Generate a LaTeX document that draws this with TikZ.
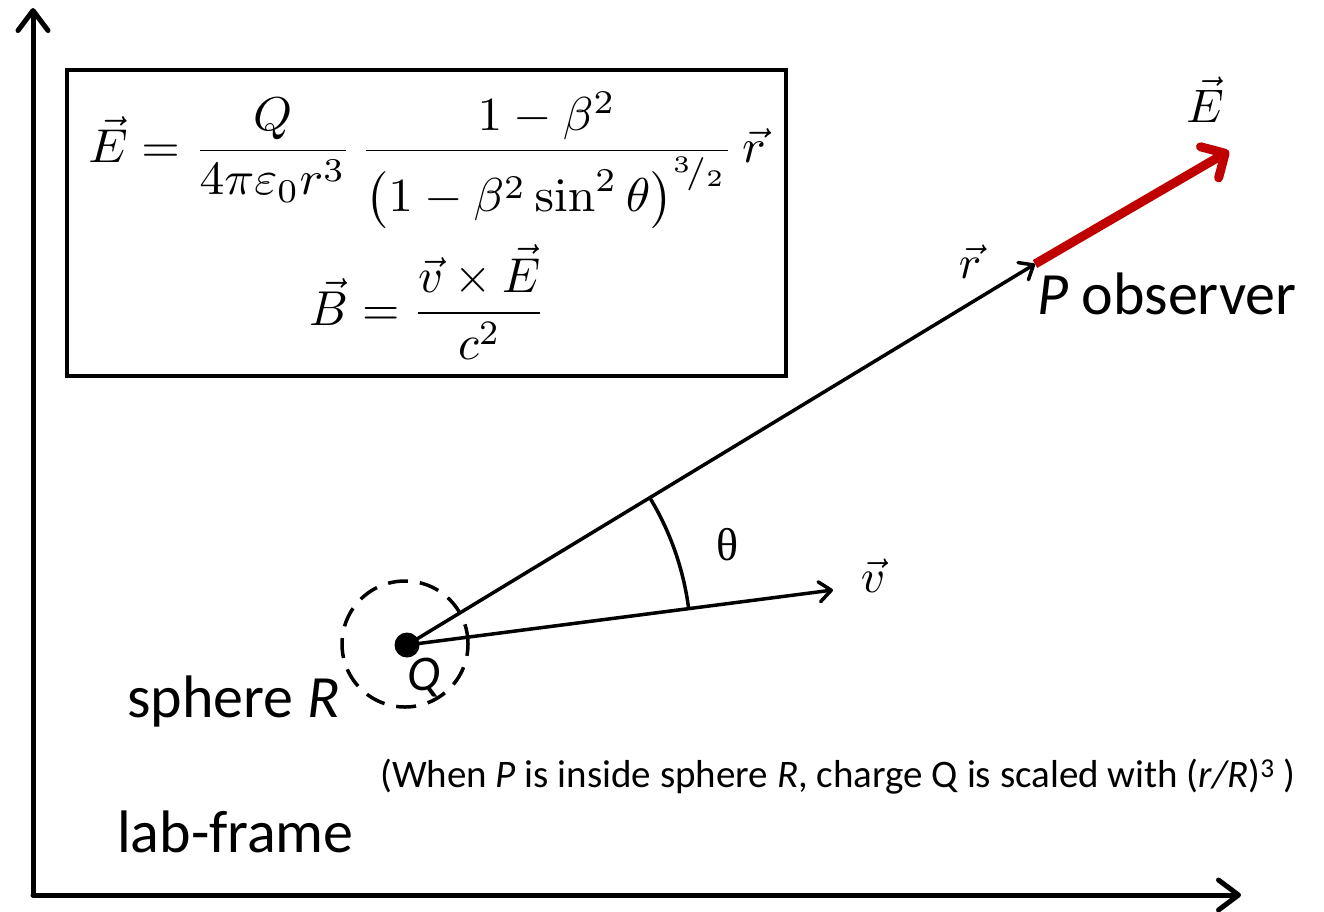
\documentclass[tikz,border=0pt]{standalone}
\usepackage{graphicx}
\usepackage[no-math]{fontspec}
\setmainfont{Carlito}
\newfontfamily\thetafont{Liberation Serif}
\usetikzlibrary{arrows.meta}
\definecolor{dred}{RGB}{192,0,0}
\newcommand{\bigmath}[1]{\scalebox{4.7}{#1}}
\tikzset{
  axisline/.style={line width=5pt, line cap=round, -{Straight Barb[length=20pt,width=30pt,line cap=round,line join=round]}},
  thinline/.style={line width=3.5pt},
  thinarrow/.style={line width=3.5pt, -{Straight Barb[length=12pt,width=20pt,line cap=round,line join=round]}},
  redarrow/.style={line width=9pt, color=dred, -{Straight Barb[length=18pt,width=36pt,line cap=round,line join=round]}},
  lbl/.style={inner sep=0pt, font=\fontsize{60}{68}\selectfont},
  small/.style={inner sep=0pt, font=\fontsize{39}{46}\selectfont},
  mathlbl/.style={inner sep=0pt},
}
\begin{document}
\begin{tikzpicture}[x=1pt,y=-1pt]
\useasboundingbox (0,0) rectangle (1324,911);
% axes
\coordinate (O) at (33,895);
\coordinate (ytip) at (33,8);
\coordinate (xtip) at (1241,895);
\draw[axisline] (O) -- (ytip);
\draw[axisline] (O) -- (xtip);
% formula box
\node[draw, line width=4pt, minimum width=719pt, minimum height=306pt, inner sep=0pt] (box) at (426.5,223) {};
\node[mathlbl] (eq1) at (427,160) {\scalebox{4.95}[4.75]{$\displaystyle \vec{E}=\frac{Q}{4\pi\varepsilon_0 r^3}\,\frac{1-\beta^2}{\left(1-\beta^2\sin^2\theta\right)^{{}^{3}\!/_{2}}}\,\vec{r}$}};
\node[mathlbl] (eq2) at (428,302) {\scalebox{4.8}[4.9]{$\displaystyle \vec{B}=\frac{\vec{v}\times\vec{E}}{c^2}$}};
% charge and sphere
\node[circle, fill=black, inner sep=0pt, minimum size=25pt] (Q) at (407,645) {};
\node[circle, draw, dash pattern=on 20pt off 12pt, line width=3.5pt, minimum size=126pt, inner sep=0pt] (sphere) at (405,644) {};
\coordinate (P) at (1035,264);
\coordinate (vend) at (833,590);
\coordinate (Etip) at (1229,151);
\draw[thinarrow] (Q.center) -- (P);
\draw[thinarrow] (Q.center) -- (vend);
\draw[thinline] (Q.center) ++(-7.3:284) arc (-7.3:-31.2:284);
\draw[redarrow] (P) -- (Etip);
% labels
\node[inner sep=0pt, font=\thetafont\fontsize{46}{54}\selectfont] (theta) at (728,545) {θ};
\node[mathlbl] (vlbl) at (873,576) {\bigmath{$\vec{v}$}};
\node[mathlbl] (rlbl) at (970,262) {\bigmath{$\vec{r}$}};
\node[mathlbl] (Elbl) at (1205,100) {\bigmath{$\vec{E}$}};
\node[lbl, anchor=base west] (obs) at (1037,314) {\textit{P} observer};
\node[lbl, anchor=base west] (sph) at (127,717) {sphere \textit{R}};
\node[lbl, anchor=base west, font=\fontsize{50}{58}\selectfont\itshape] (Qlbl) at (407,690) {Q};
\node[small, anchor=base west] (note) at (380,787) {(When \textit{P} is inside sphere \textit{R}, charge Q is scaled with (\textit{r/R})\textsuperscript{3} )};
\node[lbl, anchor=base west] (lab) at (117,852) {lab-frame};
\end{tikzpicture}
\end{document}
